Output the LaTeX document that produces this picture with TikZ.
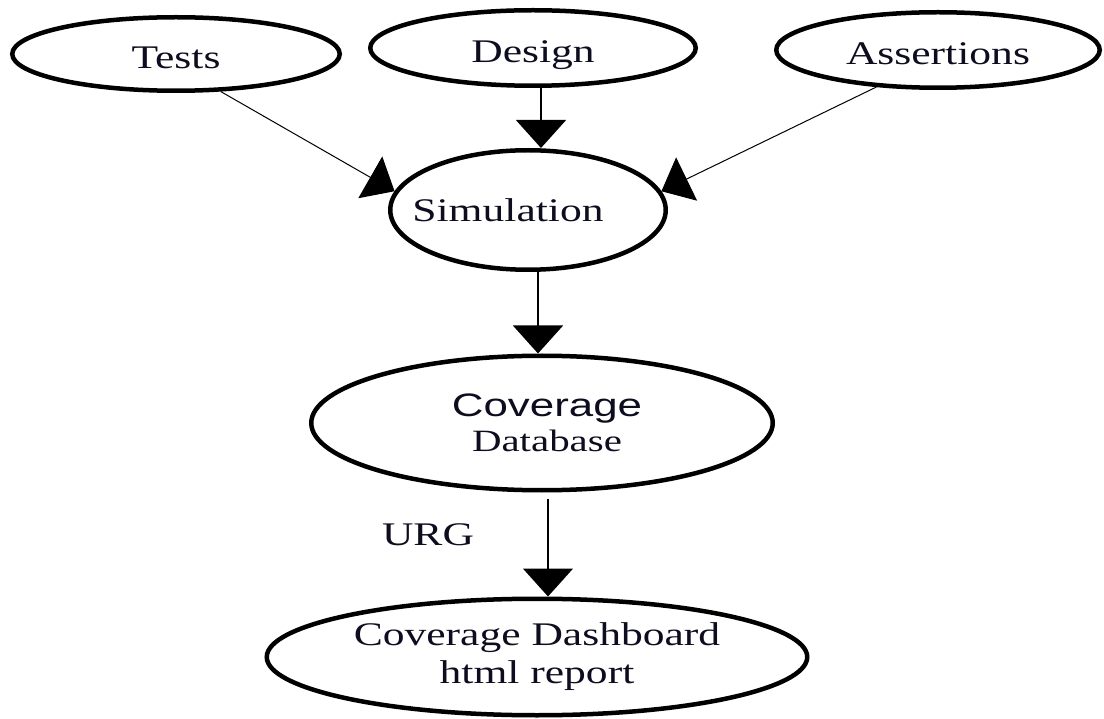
\documentclass[tikz,border=0pt]{standalone}
\usepackage{fontspec}
\setmainfont{Liberation Serif}[FakeStretch=1.32]
\newfontfamily\arialfont{Liberation Sans}[FakeStretch=1.35]
\usetikzlibrary{shapes.geometric,arrows.meta}
\definecolor{ink}{rgb}{0.05,0.05,0.12}
\tikzset{
  blob/.style={ellipse, draw=black, line width=4.5pt, inner sep=0pt, align=center,
    text=ink, font=\fontsize{33}{38}\selectfont},
  low/.style={text height=36pt, text depth=7pt},
  link/.style={line width=1.5pt, -{Triangle[width=50pt,length=28pt]}},
  thinlink/.style={line width=1pt, -{Triangle[width=48pt,length=28pt]}},
}
\begin{document}
\begin{tikzpicture}[x=1pt,y=-1pt]
\useasboundingbox (0,0) rectangle (1104,719);
\node[blob, low, minimum width=327.5pt, minimum height=73.5pt] (tests) at (176,54) {Tests};
\node[blob, low, minimum width=325.5pt, minimum height=75.5pt] (design) at (533,48) {Design};
\node[blob, low, minimum width=323.5pt, minimum height=75.5pt] (assert) at (938,50) {Assertions};
\node[blob, minimum width=275.5pt, minimum height=119.5pt] (sim) at (528,210) {\hspace*{-40pt}Simulation};
\node[blob, minimum width=461.5pt, minimum height=134.5pt] (cov) at (542,423)
  {\hspace*{10pt}{\arialfont\fontsize{32.5}{37}\selectfont Coverage}\\[-3pt]\hspace*{10pt}{\fontsize{31}{36}\selectfont Database}};
\node[blob, minimum width=540.5pt, minimum height=116.5pt] (dash) at (537,657)
  {Coverage Dashboard\\html report};
\node[text=ink, font=\fontsize{33}{38}\selectfont] (urg) at (428,535) {URG};
\draw[thinlink] (tests.-40) -- (sim.172);
\draw[thinlink] (assert.211) -- (sim.8);
\draw[link] ([xshift=13pt]sim.north |- design.south) -- ([xshift=13pt]sim.north);
\draw[link] ([xshift=-4pt]cov.north |- sim.south) -- ([xshift=-4pt]cov.north);
\draw[link, shorten <=6pt] ([xshift=11pt]dash.north |- cov.south) -- ([xshift=11pt]dash.north);
\end{tikzpicture}
\end{document}
